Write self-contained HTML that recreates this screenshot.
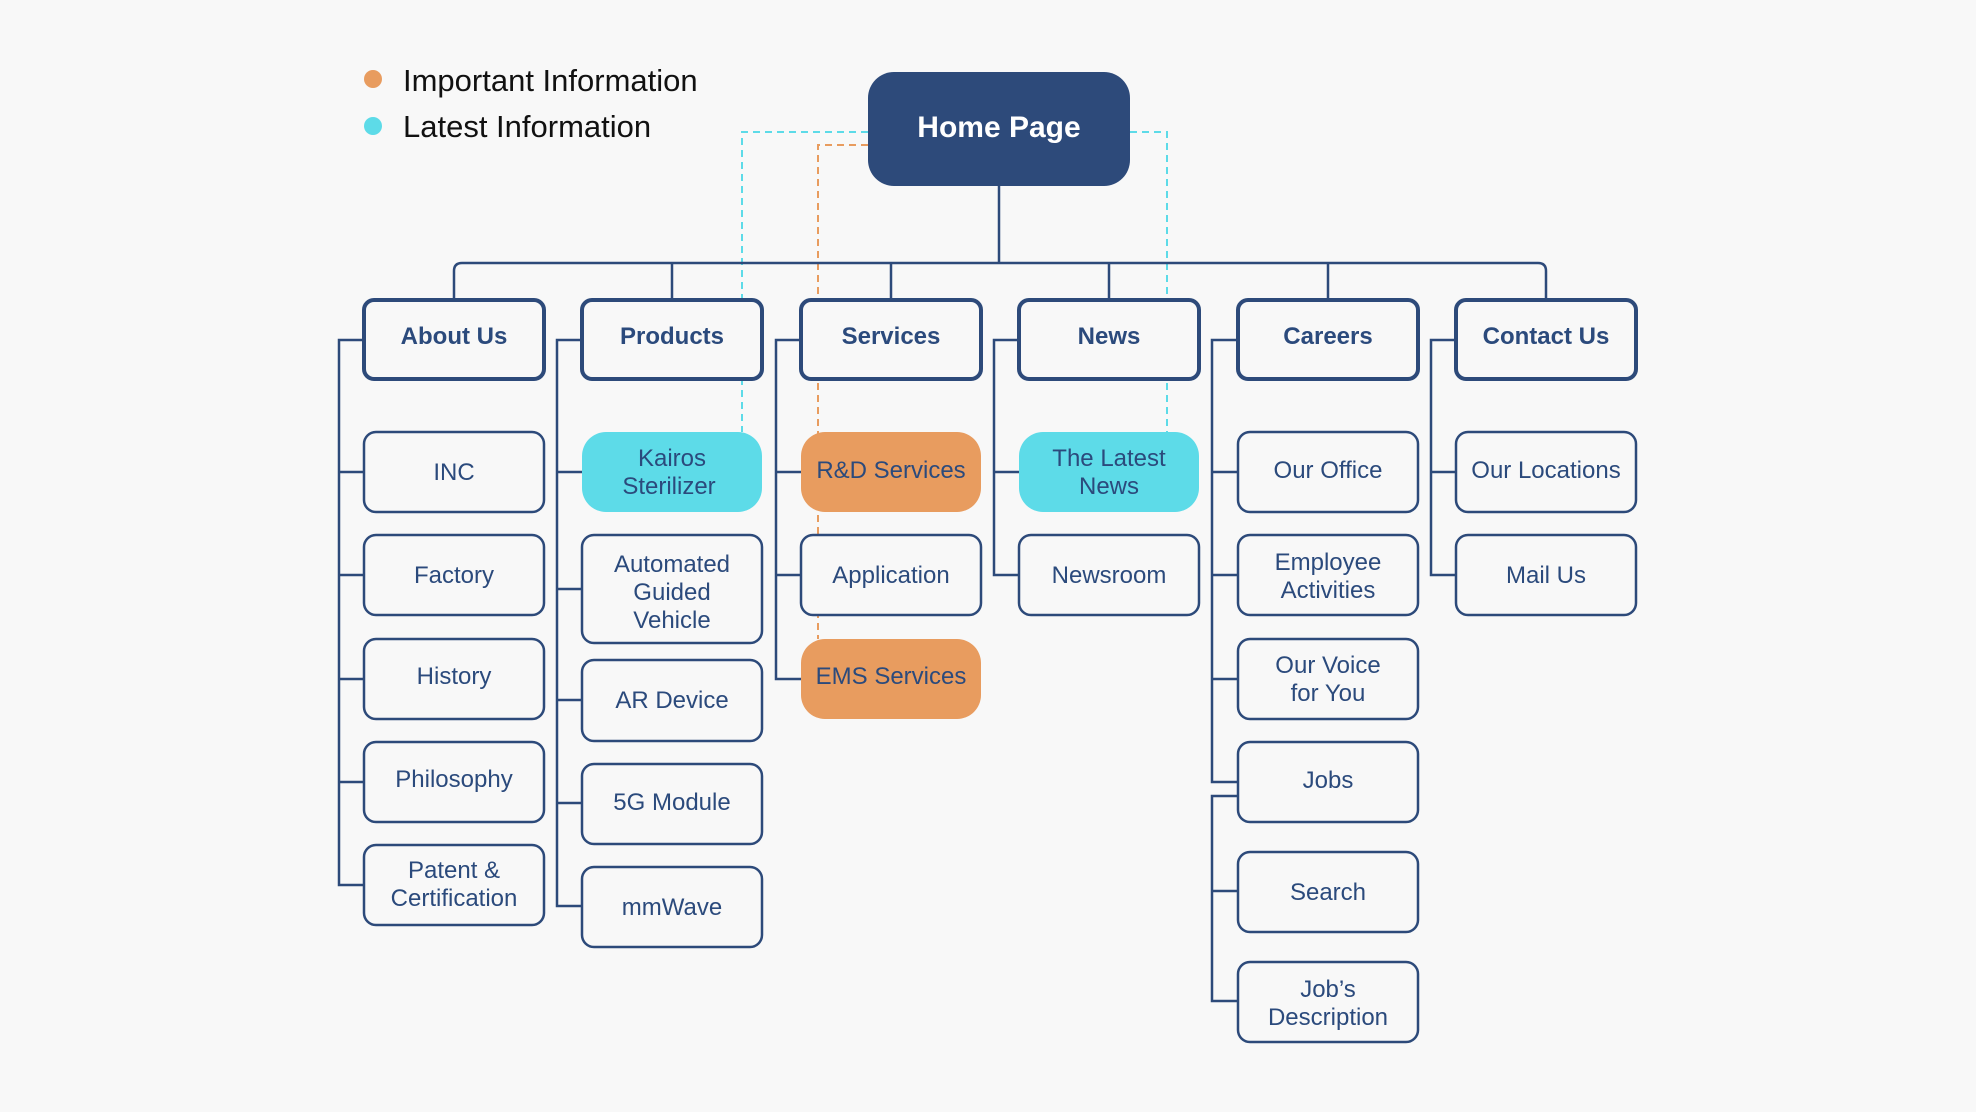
<!DOCTYPE html>
<html><head><meta charset="utf-8"><style>
html,body{margin:0;padding:0;background:#f8f8f8;}
svg{display:block;}
text{font-family:"Liberation Sans",sans-serif;fill:#2b4a7c;text-anchor:middle;}
.c{font-size:24px;font-weight:bold;}
.n{font-size:24px;}
.b{fill:#f8f8f8;stroke:#2d4a7a;stroke-width:2.5;}
.B{fill:#f8f8f8;stroke:#2d4a7a;stroke-width:4;}
.l{fill:none;stroke:#2d4a7a;stroke-width:2.5;}
</style></head><body>
<svg width="1976" height="1112" viewBox="0 0 1976 1112" xmlns="http://www.w3.org/2000/svg">
<rect width="1976" height="1112" fill="#f8f8f8"/>
<!-- legend -->
<circle cx="373" cy="79" r="9" fill="#e89c5f"/>
<circle cx="373" cy="126" r="9" fill="#5ddbe8"/>
<text x="403" y="91" style="font-size:31px;text-anchor:start;fill:#111">Important Information</text>
<text x="403" y="137" style="font-size:31px;text-anchor:start;fill:#111">Latest Information</text>

<!-- dashed -->
<path d="M868 132 H742 V432" fill="none" stroke="#5ddbe8" stroke-width="2" stroke-dasharray="7 5"/>
<path d="M1130 132 H1167 V432" fill="none" stroke="#5ddbe8" stroke-width="2" stroke-dasharray="7 5"/>
<path d="M868 145 H818 V639" fill="none" stroke="#e89c5f" stroke-width="2" stroke-dasharray="7 5"/>

<!-- tree lines -->
<path class="l" d="M999 186 V263"/>
<path class="l" d="M454 300 V271 Q454 263 462 263 H1538 Q1546 263 1546 271 V300"/>
<path class="l" d="M672 263 V300 M891 263 V300 M1109 263 V300 M1328 263 V300"/>
<!-- brackets -->
<path class="l" d="M364 340 H339 V885 H364 M339 472 H364 M339 575 H364 M339 679 H364 M339 782 H364"/>
<path class="l" d="M582 340 H557 V906 H582 M557 472 H582 M557 589 H582 M557 700 H582 M557 803 H582"/>
<path class="l" d="M801 340 H776 V679 H801 M776 472 H801 M776 575 H801"/>
<path class="l" d="M1019 340 H994 V575 H1019 M994 472 H1019"/>
<path class="l" d="M1238 340 H1212 V782 H1238 M1212 472 H1238 M1212 575 H1238 M1212 679 H1238"/>
<path class="l" d="M1238 796 H1212 V1001 H1238 M1212 891 H1238"/>
<path class="l" d="M1456 340 H1431 V575 H1456 M1431 472 H1456"/>

<!-- home -->
<rect x="868" y="72" width="262" height="114" rx="26" fill="#2d4a7a"/>
<text x="999" y="137" style="font-size:30px;font-weight:bold;fill:#fff">Home Page</text>

<!-- categories -->
<rect class="B" x="364" y="300" width="180" height="79" rx="10"/><text class="c" x="454" y="344">About Us</text>
<rect class="B" x="582" y="300" width="180" height="79" rx="10"/><text class="c" x="672" y="344">Products</text>
<rect class="B" x="801" y="300" width="180" height="79" rx="10"/><text class="c" x="891" y="344">Services</text>
<rect class="B" x="1019" y="300" width="180" height="79" rx="10"/><text class="c" x="1109" y="344">News</text>
<rect class="B" x="1238" y="300" width="180" height="79" rx="10"/><text class="c" x="1328" y="344">Careers</text>
<rect class="B" x="1456" y="300" width="180" height="79" rx="10"/><text class="c" x="1546" y="344">Contact Us</text>

<!-- About -->
<rect class="b" x="364" y="432" width="180" height="80" rx="12"/><text class="n" x="454" y="480">INC</text>
<rect class="b" x="364" y="535" width="180" height="80" rx="12"/><text class="n" x="454" y="583">Factory</text>
<rect class="b" x="364" y="639" width="180" height="80" rx="12"/><text class="n" x="454" y="684">History</text>
<rect class="b" x="364" y="742" width="180" height="80" rx="12"/><text class="n" x="454" y="787">Philosophy</text>
<rect class="b" x="364" y="845" width="180" height="80" rx="12"/><text class="n" x="454" y="878">Patent &amp;</text><text class="n" x="454" y="906">Certification</text>

<!-- Products -->
<rect x="582" y="432" width="180" height="80" rx="24" fill="#5ddbe8"/><text class="n" x="672" y="466">Kairos</text><text class="n" x="669" y="494">Sterilizer</text>
<rect class="b" x="582" y="535" width="180" height="108" rx="12"/><text class="n" x="672" y="572">Automated</text><text class="n" x="672" y="600">Guided</text><text class="n" x="672" y="628">Vehicle</text>
<rect class="b" x="582" y="660" width="180" height="81" rx="12"/><text class="n" x="672" y="708">AR Device</text>
<rect class="b" x="582" y="764" width="180" height="80" rx="12"/><text class="n" x="672" y="810">5G Module</text>
<rect class="b" x="582" y="867" width="180" height="80" rx="12"/><text class="n" x="672" y="915">mmWave</text>

<!-- Services -->
<rect x="801" y="432" width="180" height="80" rx="24" fill="#e89c5f"/><text class="n" x="891" y="478">R&amp;D Services</text>
<rect class="b" x="801" y="535" width="180" height="80" rx="12"/><text class="n" x="891" y="583">Application</text>
<rect x="801" y="639" width="180" height="80" rx="24" fill="#e89c5f"/><text class="n" x="891" y="684">EMS Services</text>

<!-- News -->
<rect x="1019" y="432" width="180" height="80" rx="24" fill="#5ddbe8"/><text class="n" x="1109" y="466">The Latest</text><text class="n" x="1109" y="494">News</text>
<rect class="b" x="1019" y="535" width="180" height="80" rx="12"/><text class="n" x="1109" y="583">Newsroom</text>

<!-- Careers -->
<rect class="b" x="1238" y="432" width="180" height="80" rx="12"/><text class="n" x="1328" y="478">Our Office</text>
<rect class="b" x="1238" y="535" width="180" height="80" rx="12"/><text class="n" x="1328" y="570">Employee</text><text class="n" x="1328" y="598">Activities</text>
<rect class="b" x="1238" y="639" width="180" height="80" rx="12"/><text class="n" x="1328" y="673">Our Voice</text><text class="n" x="1328" y="701">for You</text>
<rect class="b" x="1238" y="742" width="180" height="80" rx="12"/><text class="n" x="1328" y="788">Jobs</text>
<rect class="b" x="1238" y="852" width="180" height="80" rx="12"/><text class="n" x="1328" y="900">Search</text>
<rect class="b" x="1238" y="962" width="180" height="80" rx="12"/><text class="n" x="1328" y="997">Job’s</text><text class="n" x="1328" y="1025">Description</text>

<!-- Contact -->
<rect class="b" x="1456" y="432" width="180" height="80" rx="12"/><text class="n" x="1546" y="478">Our Locations</text>
<rect class="b" x="1456" y="535" width="180" height="80" rx="12"/><text class="n" x="1546" y="583">Mail Us</text>
</svg>
</body></html>
